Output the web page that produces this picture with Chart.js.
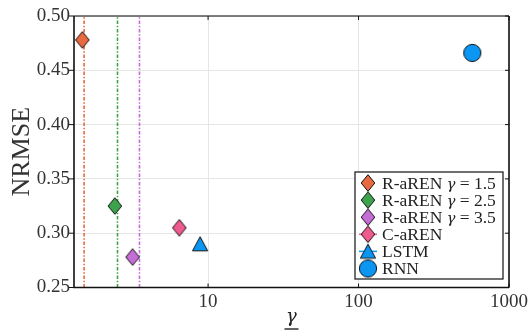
<!DOCTYPE html>
<html><head><meta charset="utf-8">
<script src="https://cdn.jsdelivr.net/npm/chart.js@4/dist/chart.umd.min.js"></script>
<style>html,body{margin:0;padding:0;background:#fff}#wrap{width:531px;height:331px}</style>
</head><body><div id="wrap"><canvas id="c" width="531" height="331"></canvas></div>
<script>
const seriesNames = ['R-aREN γ = 1.5', 'R-aREN γ = 2.5', 'R-aREN γ = 3.5', 'C-aREN', 'LSTM', 'RNN'];
const gammaValues = [1.46, 2.40, 3.15, 6.44, 8.85, 570];
const nrmseValues = [0.478, 0.325, 0.278, 0.305, 0.290, 0.466];
const gammaBounds = [1.5, 2.5, 3.5];
const seriesColors = ['#E8693F', '#3DA24C', '#C46DD6', '#EE5B8E', '#0A96F2', '#0A96F2'];
const markerKinds = ['diamond', 'diamond', 'diamond', 'diamond', 'triangle', 'circle'];
const yTicks = [0.25, 0.30, 0.35, 0.40, 0.45, 0.50];
const xTicks = [10, 100, 1000];

function makeMarker(kind, color) {
  const c = document.createElement('canvas');
  const s = kind === 'circle' ? 20 : 18;
  c.width = s; c.height = s;
  const g = c.getContext('2d');
  g.fillStyle = color; g.strokeStyle = '#111'; g.lineWidth = 1;
  g.beginPath();
  const m = s / 2;
  if (kind === 'diamond') {
    g.moveTo(m, m - 8.3); g.lineTo(m + 6.8, m); g.lineTo(m, m + 8.3); g.lineTo(m - 6.8, m); g.closePath();
  } else if (kind === 'triangle') {
    g.moveTo(m, m - 7.3); g.lineTo(m + 7.6, m + 6.8); g.lineTo(m - 7.6, m + 6.8); g.closePath();
  } else {
    g.arc(m, m, 8.6, 0, Math.PI * 2);
  }
  g.fill(); g.stroke();
  return c;
}
const markers = markerKinds.map((k, i) => makeMarker(k, seriesColors[i]));

const vlineColors = seriesColors.slice(0, 3);
const datasets = [];
gammaBounds.forEach((g, i) => {
  datasets.push({
    label: 'bound' + i,
    data: [{x: g, y: yTicks[0]}, {x: g, y: yTicks[yTicks.length - 1]}],
    type: 'line', showLine: true, borderColor: vlineColors[i], borderWidth: 1.6,
    borderDash: [3.5, 1.8, 1.4, 1.8], pointRadius: 0, fill: false, order: 10
  });
});
seriesNames.forEach((n, i) => {
  datasets.push({
    label: n, data: [{x: gammaValues[i], y: nrmseValues[i]}],
    pointStyle: markers[i], pointRadius: 9, backgroundColor: seriesColors[i],
    borderColor: '#111', order: 1
  });
});

const FONT = '"Liberation Serif", "DejaVu Serif", serif';
const GFONT = '"DejaVu Serif", serif';

const framePlugin = {
  id: 'frame',
  afterDatasetsDraw(chart) {
    const {ctx, chartArea: a, scales: {x, y}} = chart;
    ctx.save();
    ctx.lineWidth = 1.6;
    ctx.strokeStyle = '#555';
    ctx.beginPath(); ctx.moveTo(a.left, a.top); ctx.lineTo(a.right, a.top); ctx.stroke();
    ctx.strokeStyle = '#111';
    ctx.beginPath(); ctx.moveTo(a.right, a.top); ctx.lineTo(a.right, a.bottom); ctx.stroke();
    ctx.beginPath(); ctx.moveTo(a.left, a.top); ctx.lineTo(a.left, a.bottom); ctx.lineTo(a.right, a.bottom); ctx.stroke();
    ctx.lineWidth = 1;
    yTicks.forEach(v => {
      const py = y.getPixelForValue(v);
      ctx.beginPath(); ctx.moveTo(a.left - 5, py); ctx.lineTo(a.left, py); ctx.stroke();
      ctx.beginPath(); ctx.moveTo(a.right - 4, py); ctx.lineTo(a.right, py); ctx.stroke();
    });
    xTicks.forEach(v => {
      const px = x.getPixelForValue(v);
      ctx.beginPath(); ctx.moveTo(px, a.bottom); ctx.lineTo(px, a.bottom - 4); ctx.stroke();
      ctx.beginPath(); ctx.moveTo(px, a.top); ctx.lineTo(px, a.top + 4); ctx.stroke();
    });
    ctx.fillStyle = '#222';
    ctx.font = 'italic 18px ' + GFONT;
    ctx.textAlign = 'center'; ctx.textBaseline = 'alphabetic';
    const cx = (a.left + a.right) / 2;
    ctx.fillText('γ', cx, 322);
    ctx.lineWidth = 1.3;
    ctx.beginPath(); ctx.moveTo(cx - 7, 329); ctx.lineTo(cx + 7, 329); ctx.stroke();
    ctx.restore();
  },
  afterDraw(chart) {
    const {ctx} = chart;
    const bx = 355, by = 172, bw = 148, bh = 107;
    ctx.save();
    ctx.fillStyle = '#fff';
    ctx.fillRect(bx, by, bw, bh);
    ctx.strokeStyle = '#111'; ctx.lineWidth = 1.2;
    ctx.strokeRect(bx, by, bw, bh);
    const rowH = 17.1;
    seriesNames.forEach((n, i) => {
      const cy = by + 11 + i * rowH;
      const mx = bx + 13;
      if (i === 3 || i === 4) {
        ctx.strokeStyle = seriesColors[i]; ctx.lineWidth = 1.5;
        ctx.beginPath(); ctx.moveTo(mx - 9, cy); ctx.lineTo(mx + 9, cy); ctx.stroke();
      }
      const img = markers[i];
      ctx.drawImage(img, mx - img.width / 2, cy - img.height / 2);
      ctx.fillStyle = '#222';
      ctx.textBaseline = 'middle'; ctx.textAlign = 'left';
      let tx = bx + 27;
      const parts = n.split('γ');
      ctx.font = '17.5px ' + FONT;
      ctx.fillText(parts[0], tx, cy + 1);
      if (parts.length > 1) {
        tx += ctx.measureText(parts[0]).width;
        ctx.font = 'italic 14.5px ' + GFONT;
        ctx.fillText('γ', tx, cy + 2);
        tx += ctx.measureText('γ').width;
        ctx.font = '17.5px ' + FONT;
        ctx.fillText(parts[1], tx, cy + 1);
      }
    });
    ctx.restore();
  }
};

new Chart(document.getElementById('c'), {
  type: 'scatter',
  data: { datasets },
  options: {
    responsive: false, animation: false,
    layout: { padding: { left: 0, right: 19, top: 16, bottom: 0 } },
    plugins: { legend: { display: false }, tooltip: { enabled: false } },
    scales: {
      x: {
        type: 'logarithmic', min: 1.285, max: 1000,
        afterBuildTicks: s => { s.ticks = xTicks.map(v => ({value: v})); },
        afterFit: s => { s.height = 43.5; },
        ticks: { callback: v => String(v), color: '#333', font: { family: FONT, size: 19 }, padding: 3, maxRotation: 0 },
        grid: { color: '#e6e6e6', lineWidth: 1, drawTicks: false },
        border: { display: false }
      },
      y: {
        min: 0.25, max: 0.5,
        afterBuildTicks: s => { s.ticks = yTicks.map(v => ({value: v})); },
        afterFit: s => { s.width = 74; },
        ticks: { callback: v => v.toFixed(2), color: '#333', font: { family: FONT, size: 19 }, padding: 4 },
        grid: { color: '#e6e6e6', lineWidth: 1, drawTicks: false },
        border: { display: false },
        title: { display: true, text: 'NRMSE', color: '#333', font: { family: FONT, size: 26 }, padding: { top: 7, bottom: 0 } }
      }
    }
  },
  plugins: [framePlugin]
});
</script></body></html>
